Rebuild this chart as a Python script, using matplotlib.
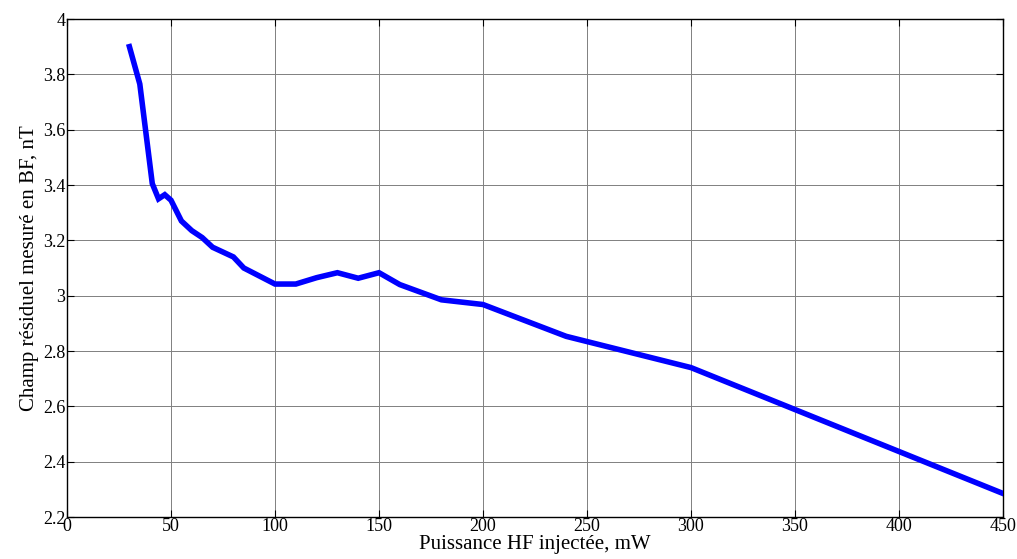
import matplotlib
matplotlib.use("Agg")
from matplotlib import pyplot as plt

# puissance HF injectée (mW) et champ résiduel (nT)
power_mw = [30, 35, 41, 44, 47, 50, 55, 60, 65, 70, 80, 85, 100, 110, 120,
            130, 140, 150, 160, 180, 200, 240, 300, 450]
field_nt = [3.90, 3.765, 3.405, 3.35, 3.365, 3.345, 3.27, 3.235, 3.21,
            3.175, 3.14, 3.10, 3.042, 3.042, 3.065, 3.083, 3.063, 3.083,
            3.04, 2.985, 2.968, 2.853, 2.74, 2.285]

x_ticks = [0, 50, 100, 150, 200, 250, 300, 350, 400, 450]
y_ticks = [2.2, 2.4, 2.6, 2.8, 3.0, 3.2, 3.4, 3.6, 3.8, 4.0]
y_tick_labels = ["2.2", "2.4", "2.6", "2.8", "3", "3.2", "3.4", "3.6",
                 "3.8", "4"]

plt.rcParams['font.family'] = ['Liberation Serif', 'DejaVu Serif']

fig = plt.figure(figsize=(10.17, 5.59), dpi=100)
ax = fig.add_axes((67 / 1017, 1 - 517 / 559, 936 / 1017, 498 / 559))

ax.plot(power_mw, field_nt, color='#0000ff', lw=4, solid_joinstyle='miter',
        zorder=3)

ax.set_xlim(0, 450)
ax.set_ylim(2.2, 4.0)
ax.set_xticks(x_ticks)
ax.set_yticks(y_ticks)
ax.set_yticklabels(y_tick_labels)
ax.grid(True, color='#808080', lw=0.7, ls='-')
ax.tick_params(direction='in', length=5, width=0.8, top=True, right=True,
               labelsize=13, pad=1)
for s in ax.spines.values():
    s.set_linewidth(1.0)

ax.set_xlabel("Puissance HF injectée, mW", fontsize=15, labelpad=0)
ax.set_ylabel("Champ résiduel mesuré en BF, nT", fontsize=15, labelpad=3)

fig.savefig("out.png", dpi=100)
